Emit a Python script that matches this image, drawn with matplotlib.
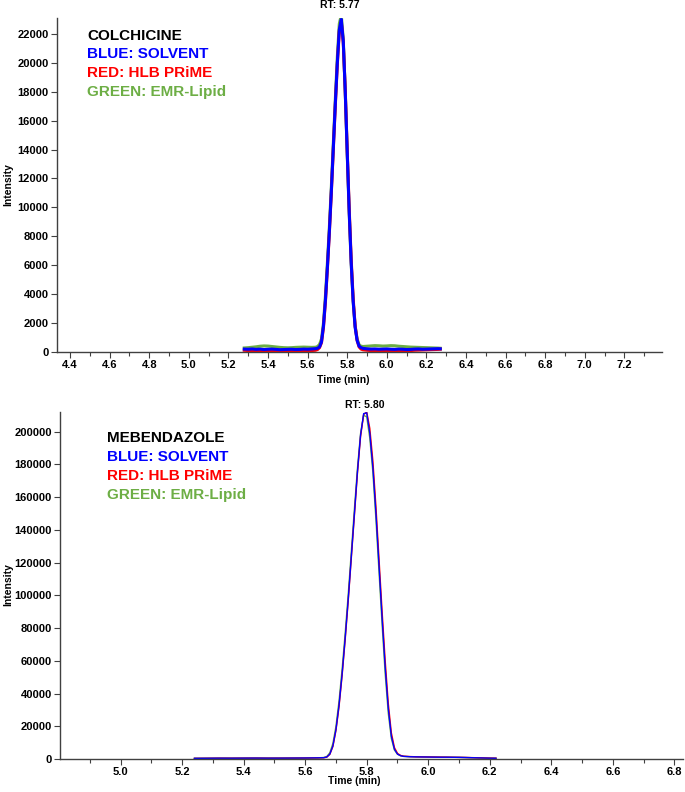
import matplotlib
matplotlib.use('Agg')
import matplotlib.pyplot as plt
from matplotlib.ticker import MultipleLocator, FixedLocator

plt.rcParams['font.family'] = ['Liberation Sans', 'DejaVu Sans']
plt.rcParams['font.weight'] = 'bold'

BLUE = '#0000FF'
RED = '#FF0000'
GREEN = '#6DAE45'
AXC = '#404040'

# ---- COLCHICINE ----
col_time = [5.28, 5.30, 5.32, 5.34, 5.36, 5.38, 5.40, 5.42, 5.44, 5.46, 5.48, 5.50, 5.52, 5.54,
            5.56, 5.58, 5.60, 5.62, 5.64,
            5.65, 5.66, 5.67, 5.68, 5.69, 5.70, 5.71, 5.72, 5.73, 5.74, 5.75, 5.76, 5.77, 5.78,
            5.79, 5.80, 5.81, 5.82, 5.83, 5.84, 5.85, 5.86, 5.87, 5.88,
            5.90, 5.92, 5.94, 5.96, 5.98, 6.00, 6.02, 6.04, 6.06, 6.08, 6.10, 6.12, 6.14, 6.16,
            6.18, 6.20, 6.22, 6.24, 6.26, 6.27]
col_blue = [200, 190, 210, 180, 200, 170, 190, 200, 180, 160, 170, 180, 190, 170,
            180, 200, 190, 210, 230,
            260, 350, 700, 1800, 3600, 5900, 8400, 11200, 14200, 17200, 20000, 22300, 23000, 21500,
            18000, 13800, 9700, 6200, 3500, 1700, 800, 400, 300, 250,
            220, 200, 210, 190, 200, 210, 190, 180, 200, 190, 170, 180, 200, 210,
            190, 200, 210, 220, 230, 220]
col_red = [120, 100, 90, 80, 90, 70, 60, 80, 90, 70, 60, 50, 60, 70,
           80, 90, 80, 100, 120,
           170, 300, 650, 1700, 3500, 5800, 8300, 11100, 14100, 17100, 19900, 22200, 22800, 21400,
           18100, 13900, 9900, 6400, 3700, 1800, 800, 350, 200, 150,
           120, 100, 90, 80, 90, 100, 90, 80, 70, 80, 90, 100, 120, 130,
           140, 150, 160, 170, 180, 190]
col_green = [280, 300, 330, 360, 400, 420, 410, 380, 350, 320, 300, 290, 300, 320,
             330, 340, 330, 320, 330,
             380, 520, 900, 2000, 3900, 6200, 8700, 11500, 14500, 17500, 20400, 22700, 23300, 21600,
             18000, 13700, 9600, 6100, 3500, 1800, 900, 500, 400, 380,
             400, 420, 440, 430, 410, 420, 440, 430, 400, 380, 360, 340, 330, 320,
             310, 300, 290, 280, 270, 260]

# ---- MEBENDAZOLE ----
meb_time = [5.24, 5.28, 5.32, 5.36, 5.40, 5.44, 5.48, 5.52, 5.56, 5.60, 5.64,
            5.66, 5.67, 5.68, 5.69, 5.70, 5.71, 5.72, 5.73, 5.74, 5.75, 5.76, 5.77, 5.78, 5.79,
            5.80, 5.81, 5.82, 5.83, 5.84, 5.85, 5.86, 5.87, 5.88, 5.89, 5.90, 5.91, 5.92,
            5.94, 5.96, 5.98, 6.00, 6.02, 6.04, 6.06, 6.08, 6.10, 6.12, 6.14, 6.16, 6.18, 6.20, 6.22]
meb_blue = [400, 450, 500, 480, 520, 550, 500, 520, 560, 600, 700,
            800, 1200, 3000, 8000, 18000, 33000, 52000, 74000, 98000, 124000, 150000, 176000, 198000, 211000,
            211500, 199000, 178000, 150000, 118000, 86000, 56000, 31000, 14000, 6000, 3000, 2000, 1600,
            1400, 1300, 1250, 1200, 1150, 1100, 1100, 1050, 1000, 900, 800, 700, 600, 500, 450]
meb_red = [380, 420, 480, 470, 500, 530, 490, 510, 540, 580, 680,
           750, 1100, 2800, 7600, 17500, 32000, 51000, 73000, 97000, 123000, 149000, 175000, 197000, 210500,
           212000, 202000, 182000, 154000, 122000, 90000, 60000, 34000, 16000, 7000, 3400, 2200, 1700,
           1500, 1350, 1300, 1250, 1200, 1150, 1100, 1050, 1000, 950, 850, 750, 650, 550, 480]
meb_green = [420, 460, 510, 500, 530, 560, 520, 530, 570, 620, 720,
             900, 1500, 3800, 9500, 20000, 35500, 55000, 77000, 101000, 127000, 153000, 178000, 199000, 210000,
             209000, 196000, 175000, 146000, 114000, 82000, 52000, 28000, 12500, 5500, 2900, 2000, 1600,
             1400, 1300, 1250, 1200, 1150, 1100, 1100, 1050, 1000, 900, 800, 700, 600, 500, 450]

col_xticks = [4.4, 4.6, 4.8, 5.0, 5.2, 5.4, 5.6, 5.8, 6.0, 6.2, 6.4, 6.6, 6.8, 7.0, 7.2]
meb_xticks = [5.0, 5.2, 5.4, 5.6, 5.8, 6.0, 6.2, 6.4, 6.6, 6.8]

label_lines = [('BLUE: SOLVENT', BLUE), ('RED: HLB PRiME', RED), ('GREEN: EMR-Lipid', GREEN)]


def style_axes(ax, xlim, ylim, xticks, ystep):
    ax.set_xlim(xlim)
    ax.set_ylim(ylim)
    for s in ['top', 'right']:
        ax.spines[s].set_visible(False)
    for s in ['left', 'bottom']:
        ax.spines[s].set_color(AXC)
        ax.spines[s].set_linewidth(1.0)
    ax.xaxis.set_major_locator(FixedLocator(xticks))
    ax.xaxis.set_minor_locator(MultipleLocator(0.1))
    ax.yaxis.set_major_locator(MultipleLocator(ystep))
    ax.tick_params(axis='both', which='major', length=4, width=0.8, color=AXC,
                   labelsize=8, pad=2)
    ax.tick_params(axis='x', which='minor', length=3, width=0.8, color=AXC)
    ax.set_xticklabels(['%.1f' % v for v in xticks])
    ax.set_yticklabels(['%d' % v for v in ax.get_yticks()])
    for lab in ax.get_xticklabels() + ax.get_yticklabels():
        lab.set_fontweight('bold')


def draw_labels(ax, title, x, ys):
    ax.text(x, ys[0], title, transform=ax.transAxes, fontsize=11,
            fontweight='bold', color='black', va='center')
    for (txt, c), y in zip(label_lines, ys[1:]):
        ax.text(x, y, txt, transform=ax.transAxes, fontsize=11,
                fontweight='bold', color=c, va='center')


fig = plt.figure(figsize=(6.85, 7.92), dpi=100)

# top panel
ax1 = fig.add_axes([57/685, 1-352/792, 605/685, 334/792])
ax1.plot(col_time, col_green, color=GREEN, lw=2.2)
ax1.plot(col_time, col_red, color=RED, lw=2.2)
ax1.plot(col_time, col_blue, color=BLUE, lw=2.2)
style_axes(ax1, (4.334, 7.39), (0, 23100), col_xticks, 2000)
draw_labels(ax1, 'COLCHICINE', 0.0496, [0.946, 0.891, 0.835, 0.778])
ax1.annotate('RT: 5.77', xy=(5.765, 1.0), xycoords=('data', 'axes fraction'),
             xytext=(0, 9.5), textcoords='offset points', ha='center', va='center',
             fontsize=7.5, fontweight='bold', annotation_clip=False)
fig.text(343/685, 1-380/792, 'Time (min)', ha='center', va='center',
         fontsize=7.5, fontweight='bold')
fig.text(8/685, 1-185/792, 'Intensity', ha='center', va='center', rotation=90,
         fontsize=7.5, fontweight='bold')

# bottom panel
ax2 = fig.add_axes([60/685, 1-759/792, 623/685, 347/792])
ax2.plot(meb_time, meb_green, color=GREEN, lw=1.0)
ax2.plot(meb_time, meb_red, color=RED, lw=1.0)
ax2.plot(meb_time, meb_blue, color=BLUE, lw=1.0)
style_axes(ax2, (4.803, 6.828), (0, 212000), meb_xticks, 20000)
draw_labels(ax2, 'MEBENDAZOLE', 0.0755, [0.925, 0.870, 0.816, 0.761])
ax2.annotate('RT: 5.80', xy=(5.795, 1.0), xycoords=('data', 'axes fraction'),
             xytext=(0, 5), textcoords='offset points', ha='center', va='center',
             fontsize=7.5, fontweight='bold', annotation_clip=False)
fig.text(354/685, 1-781/792, 'Time (min)', ha='center', va='center',
         fontsize=7.5, fontweight='bold')
fig.text(8/685, 1-585/792, 'Intensity', ha='center', va='center', rotation=90,
         fontsize=7.5, fontweight='bold')

fig.savefig('out.png', dpi=100)
